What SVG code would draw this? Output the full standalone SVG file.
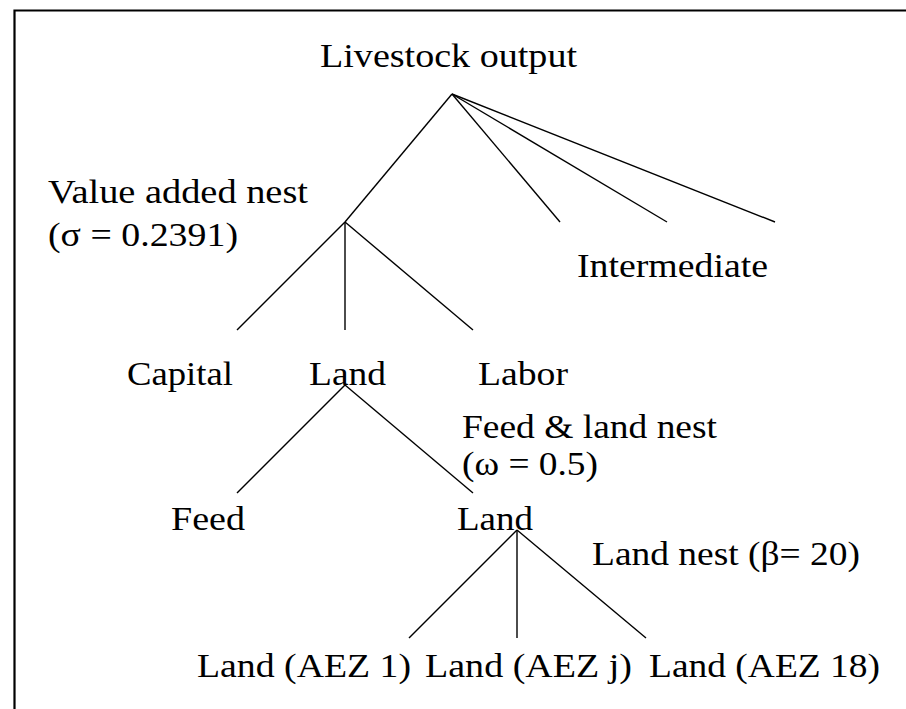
<svg xmlns="http://www.w3.org/2000/svg" width="906" height="709" viewBox="0 0 906 709">
<style>
text{font-family:"Liberation Serif","Times New Roman",serif;font-size:34px;fill:#000}
.c{stroke:#000;stroke-width:1.4;fill:none}
</style>
<rect width="906" height="709" fill="#fff"/>
<path d="M14.5,709 V10.5 H906" fill="none" stroke="#000" stroke-width="2.2"/>
<g id="connectors" class="c">
<line x1="452" y1="94" x2="345" y2="222"/>
<line x1="452" y1="94" x2="560" y2="222"/>
<line x1="452" y1="94" x2="667" y2="222"/>
<line x1="452" y1="94" x2="775" y2="222"/>
<line x1="345" y1="222" x2="237" y2="330"/>
<line x1="345" y1="222" x2="345" y2="330"/>
<line x1="345" y1="222" x2="473" y2="330"/>
<line x1="345" y1="385" x2="237" y2="493"/>
<line x1="345" y1="385" x2="473" y2="493"/>
<line x1="517" y1="530" x2="409" y2="638"/>
<line x1="517" y1="530" x2="517" y2="638"/>
<line x1="517" y1="530" x2="646" y2="638"/>
</g>
<g id="livestock"><text x="320" y="67" textLength="257" lengthAdjust="spacingAndGlyphs">Livestock output</text></g>
<g id="valueadded"><text x="48" y="203" textLength="260" lengthAdjust="spacingAndGlyphs">Value added nest</text><text x="48" y="246" textLength="190" lengthAdjust="spacingAndGlyphs">(σ = 0.2391)</text></g>
<g id="intermediate"><text x="577" y="277" textLength="191" lengthAdjust="spacingAndGlyphs">Intermediate</text></g>
<g id="capital"><text x="127" y="385" textLength="106" lengthAdjust="spacingAndGlyphs">Capital</text></g>
<g id="land2"><text x="309" y="385" textLength="77" lengthAdjust="spacingAndGlyphs">Land</text></g>
<g id="labor"><text x="478" y="385" textLength="90" lengthAdjust="spacingAndGlyphs">Labor</text></g>
<g id="feedland"><text x="462" y="438" textLength="255" lengthAdjust="spacingAndGlyphs">Feed &amp; land nest</text><text x="462" y="475" textLength="136" lengthAdjust="spacingAndGlyphs">(ω = 0.5)</text></g>
<g id="feed"><text x="171" y="530" textLength="74" lengthAdjust="spacingAndGlyphs">Feed</text></g>
<g id="land3"><text x="457" y="530" textLength="76" lengthAdjust="spacingAndGlyphs">Land</text></g>
<g id="landnest"><text x="592" y="565" textLength="268" lengthAdjust="spacingAndGlyphs">Land nest (β= 20)</text></g>
<g id="aez1"><text x="197" y="677" textLength="214" lengthAdjust="spacingAndGlyphs">Land (AEZ 1)</text></g>
<g id="aezj"><text x="425" y="677" textLength="207" lengthAdjust="spacingAndGlyphs">Land (AEZ j)</text></g>
<g id="aez18"><text x="649" y="677" textLength="231" lengthAdjust="spacingAndGlyphs">Land (AEZ 18)</text></g>
</svg>
